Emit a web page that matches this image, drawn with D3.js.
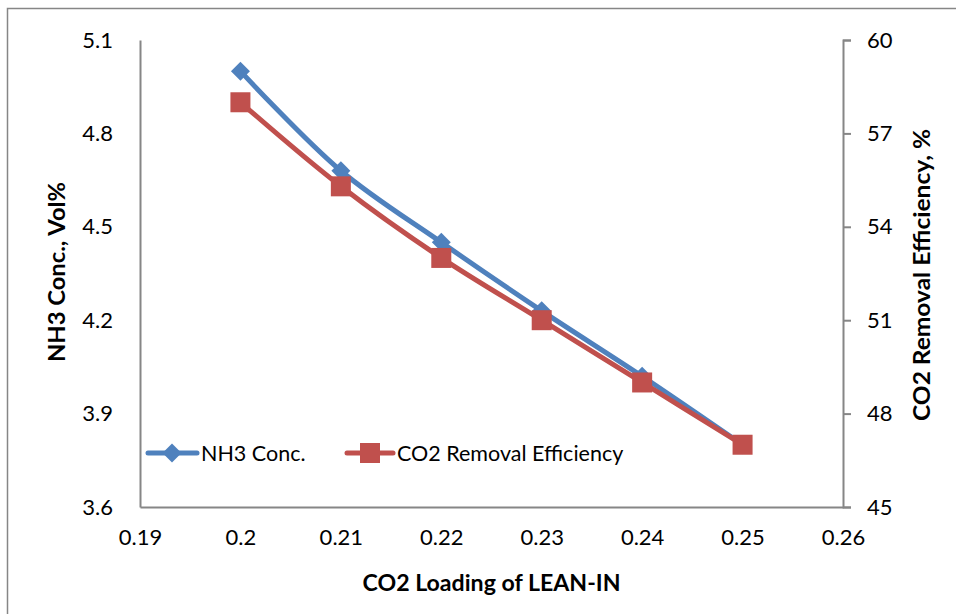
<!DOCTYPE html>
<html>
<head>
<meta charset="utf-8">
<script src="https://cdn.jsdelivr.net/npm/d3@7"></script>
<style>
  body { margin: 0; background: #fff; }
  svg text { font-family: Lato, "Open Sans", sans-serif; fill: #000; }
</style>
</head>
<body>
<div id="chart"></div>
<script>
"use strict";

// data
var loading = [0.20, 0.21, 0.22, 0.23, 0.24, 0.25];
var nh3 = [5.00, 4.68, 4.45, 4.23, 4.02, 3.80];
var co2Eff = [58.0, 55.3, 53.0, 51.0, 49.0, 47.0];
var xTicks = [0.19, 0.2, 0.21, 0.22, 0.23, 0.24, 0.25, 0.26];
var leftTicks = [3.6, 3.9, 4.2, 4.5, 4.8, 5.1];
var rightTicks = [45, 48, 51, 54, 57, 60];

var W = 956, H = 614;
var plot = { left: 140, right: 843, top: 40, bottom: 507 };
var blue = "#4F81BD", red = "#C0504D", axisCol = "#868686";

var svg = d3.select("#chart").append("svg")
  .attr("width", W).attr("height", H);

// outer chart border (runs off the right/bottom edge)
svg.append("rect")
  .attr("x", 7.5).attr("y", 8.5)
  .attr("width", 1000).attr("height", 700)
  .attr("fill", "none").attr("stroke", axisCol).attr("stroke-width", 1.5);

var x = d3.scaleLinear().domain([0.19, 0.26]).range([plot.left, plot.right]);
var yL = d3.scaleLinear().domain([3.6, 5.1]).range([plot.bottom, plot.top]);
var yR = d3.scaleLinear().domain([45, 60]).range([plot.bottom, plot.top]);

// axes
var xAxis = svg.append("g")
  .attr("transform", "translate(0," + plot.bottom + ")")
  .call(d3.axisBottom(x).tickValues(xTicks).tickSize(0).tickPadding(22)
    .tickFormat(function (d) { return d3.format("")(+d.toFixed(2)); }));

var lAxis = svg.append("g")
  .attr("transform", "translate(" + plot.left + ",0)")
  .call(d3.axisLeft(yL).tickValues(leftTicks).tickSize(0).tickPadding(27)
    .tickFormat(d3.format(".1f")));

var rAxis = svg.append("g")
  .attr("transform", "translate(" + plot.right + ",0)")
  .call(d3.axisRight(yR).tickValues(rightTicks).tickSize(8).tickPadding(16));

[xAxis, lAxis, rAxis].forEach(function (g) {
  g.select(".domain").attr("stroke", axisCol).attr("stroke-width", 2);
  g.selectAll(".tick line").attr("stroke", axisCol).attr("stroke-width", 2);
  g.selectAll(".tick text").style("font-size", "22px").style("font-family", "Lato, sans-serif");
});

// axis titles
svg.append("text")
  .attr("x", (plot.left + plot.right) / 2).attr("y", 591)
  .attr("text-anchor", "middle")
  .attr("textLength", 258).attr("lengthAdjust", "spacingAndGlyphs")
  .style("font-size", "23px").style("font-weight", "bold")
  .text("CO2 Loading of LEAN-IN");

svg.append("text")
  .attr("transform", "translate(65," + 272 + ") rotate(-90)")
  .attr("text-anchor", "middle")
  .attr("textLength", 180).attr("lengthAdjust", "spacingAndGlyphs")
  .style("font-size", "23px").style("font-weight", "bold")
  .text("NH3 Conc., Vol%");

svg.append("text")
  .attr("transform", "translate(930," + 275 + ") rotate(-90)")
  .attr("text-anchor", "middle")
  .attr("textLength", 292).attr("lengthAdjust", "spacingAndGlyphs")
  .style("font-size", "23px").style("font-weight", "bold")
  .text("CO2 Removal Efficiency, %");

// series
var nh3Line = d3.line()
  .x(function (d, i) { return x(loading[i]); })
  .y(function (d) { return yL(d); })
  .curve(d3.curveCatmullRom.alpha(0.5));

var co2Line = d3.line()
  .x(function (d, i) { return x(loading[i]); })
  .y(function (d) { return yR(d); })
  .curve(d3.curveCatmullRom.alpha(0.5));

svg.append("path").datum(nh3)
  .attr("d", nh3Line)
  .attr("fill", "none").attr("stroke", blue).attr("stroke-width", 5)
  .attr("stroke-linejoin", "round");

svg.selectAll(".nh3pt").data(nh3).enter()
  .append("path")
  .attr("class", "nh3pt")
  .attr("transform", function (d, i) { return "translate(" + x(loading[i]) + "," + yL(d) + ")"; })
  .attr("d", d3.symbol().type(d3.symbolDiamond2).size(230))
  .attr("fill", blue);

svg.append("path").datum(co2Eff)
  .attr("d", co2Line)
  .attr("fill", "none").attr("stroke", red).attr("stroke-width", 5)
  .attr("stroke-linejoin", "round");

svg.selectAll(".co2pt").data(co2Eff).enter()
  .append("rect")
  .attr("class", "co2pt")
  .attr("x", function (d, i) { return x(loading[i]) - 10; })
  .attr("y", function (d) { return yR(d) - 10; })
  .attr("width", 20).attr("height", 20)
  .attr("fill", red);

// legend
var legend = svg.append("g").attr("transform", "translate(0,453)");

legend.append("line").attr("x1", 148).attr("x2", 197)
  .attr("stroke", blue).attr("stroke-width", 5).attr("stroke-linecap", "round");
legend.append("path").attr("transform", "translate(172,0)")
  .attr("d", d3.symbol().type(d3.symbolDiamond2).size(230)).attr("fill", blue);
legend.append("text").attr("x", 201).attr("y", 0).attr("dy", "0.35em")
  .style("font-size", "21.5px").text("NH3 Conc.");

legend.append("line").attr("x1", 347).attr("x2", 393)
  .attr("stroke", red).attr("stroke-width", 5).attr("stroke-linecap", "round");
legend.append("rect").attr("x", 360).attr("y", -10).attr("width", 20).attr("height", 20)
  .attr("fill", red);
legend.append("text").attr("x", 397).attr("y", 0).attr("dy", "0.35em")
  .style("font-size", "21.5px").text("CO2 Removal Efficiency");
</script>
</body>
</html>
